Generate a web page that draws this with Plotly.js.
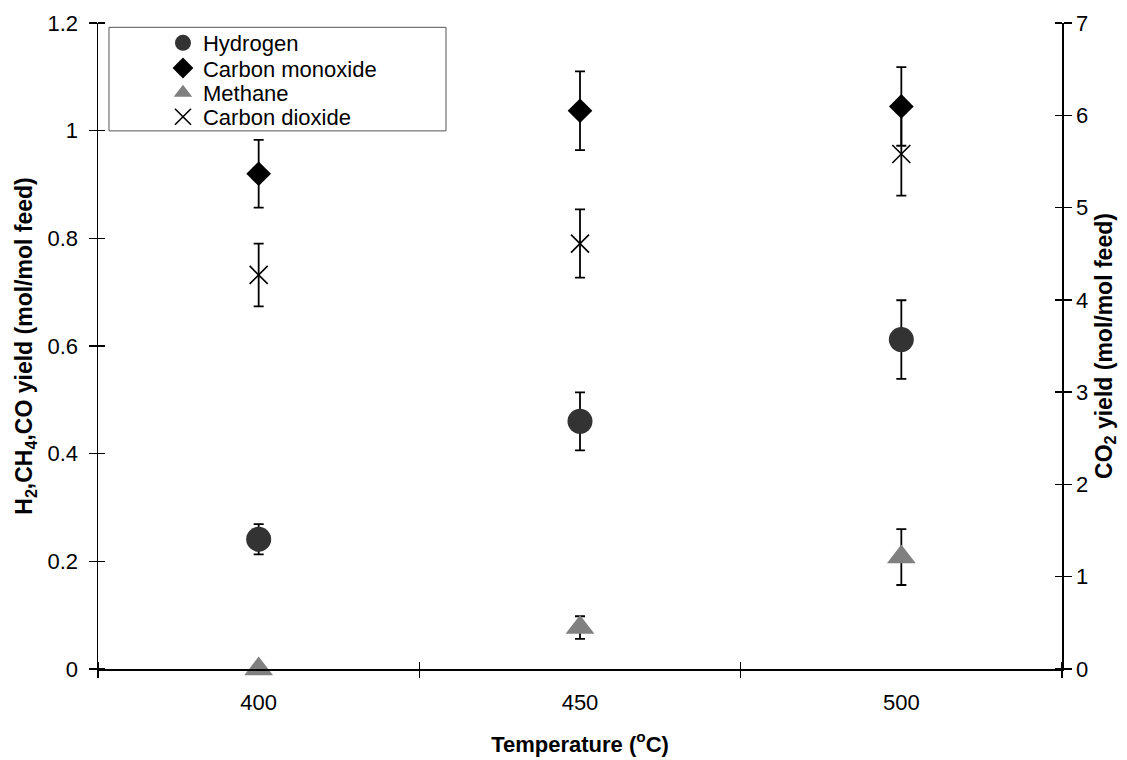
<!DOCTYPE html>
<html><head><meta charset="utf-8">
<script src="https://cdn.plot.ly/plotly-3.0.1.min.js"></script>
<style>html,body{margin:0;padding:0;background:#fff}#chart{width:1127px;height:760px}</style>
</head><body><div id="chart"></div>
<script>
const temperatures = [400, 450, 500];
const xTickLabels = ['400', '450', '500'];
const xBoundaries = [375, 425, 475, 525];
const hydrogen = [0.241, 0.460, 0.612];
const hydrogenErr = [0.028, 0.054, 0.073];
const carbonMonoxide = [0.920, 1.037, 1.045];
const carbonMonoxideErr = [0.063, 0.073, 0.073];
const methane = [0.0, 0.077, 0.208];
const methaneErr = [0.0, 0.021, 0.052];
const carbonDioxide = [4.27, 4.61, 5.58];
const carbonDioxideErr = [0.34, 0.37, 0.45];

function err(arr) {
  return {type: 'data', array: arr, visible: true, color: '#000', thickness: 1.8, width: 5};
}

const traces = [
  {name: 'Hydrogen', x: temperatures, y: hydrogen, mode: 'markers', type: 'scatter', legend: 'legend',
   marker: {symbol: 'circle', size: 25, color: '#333333', line: {width: 0}}, error_y: err(hydrogenErr)},
  {name: 'Carbon monoxide', x: temperatures, y: carbonMonoxide, mode: 'markers', type: 'scatter', legend: 'legend2',
   marker: {symbol: 'diamond', size: 19, color: '#000000', line: {width: 0}}, error_y: err(carbonMonoxideErr)},
  {name: 'Methane', x: temperatures, y: methane, mode: 'markers', type: 'scatter', legend: 'legend3',
   cliponaxis: false,
   marker: {symbol: 'triangle-up', size: 25, color: '#808080', line: {width: 0}}, error_y: err(methaneErr)},
  {name: 'Carbon dioxide', x: temperatures, y: carbonDioxide, mode: 'markers', type: 'scatter', legend: 'legend4',
   xaxis: 'x2', yaxis: 'y2',
   marker: {symbol: 'x-thin-open', size: 18, color: '#000000', line: {color: '#000000', width: 1.6}},
   error_y: err(carbonDioxideErr)}
];

const FONT = 'Liberation Sans, Arial, Helvetica, sans-serif';
function leg(yc) {
  return {x: 0.0674, y: yc, xanchor: 'left', yanchor: 'middle', bgcolor: 'rgba(0,0,0,0)',
          borderwidth: 0, font: {size: 22, family: FONT, color: '#000'}};
}
const layout = {
  width: 1127, height: 760,
  margin: {l: 98, r: 65, t: 23, b: 91},
  paper_bgcolor: '#fff', plot_bgcolor: '#fff',
  font: {family: FONT, size: 22, color: '#000'},
  showlegend: true,
  legend: leg(0.969),
  legend2: leg(0.930),
  legend3: leg(0.8916),
  legend4: leg(0.8545),
  xaxis: {range: [375, 525], tickmode: 'array', tickvals: temperatures, ticktext: xTickLabels,
          ticks: '', showline: true, linecolor: '#000', linewidth: 1.5, showgrid: false, zeroline: false,
          ticklabelstandoff: 13,
          title: {text: '<b>Temperature (<sup>o</sup>C)</b>', font: {size: 22}, standoff: 22}},
  xaxis2: {overlaying: 'x', anchor: 'y', side: 'bottom', range: [375, 525],
           tickmode: 'array', tickvals: xBoundaries, showticklabels: false,
           ticks: 'outside', ticklen: 8, tickwidth: 1.3, tickcolor: '#000',
           minor: {tickmode: 'array', tickvals: xBoundaries, ticks: 'inside', ticklen: 7, tickwidth: 1.3, tickcolor: '#000'},
           showline: false, showgrid: false, zeroline: false},
  yaxis: {range: [0, 1.2], tickmode: 'linear', tick0: 0, dtick: 0.2,
          ticks: 'outside', ticklen: 8, tickwidth: 1.3, tickcolor: '#000', ticklabelstandoff: 6,
          minor: {tickmode: 'linear', tick0: 0, dtick: 0.2, ticks: 'inside', ticklen: 7, tickwidth: 1.3, tickcolor: '#000'},
          showline: true, linecolor: '#000', linewidth: 1.5, showgrid: false, zeroline: false,
          title: {text: '<b>H<sub>2</sub>,CH<sub>4</sub>,CO yield (mol/mol feed)</b>', font: {size: 23}, standoff: 8}},
  yaxis2: {overlaying: 'y', side: 'right', anchor: 'x2', range: [0, 7], tickmode: 'linear', tick0: 0, dtick: 1,
           ticks: 'outside', ticklen: 8, tickwidth: 1.3, tickcolor: '#000',
           minor: {tickmode: 'linear', tick0: 0, dtick: 1, ticks: 'inside', ticklen: 7, tickwidth: 1.3, tickcolor: '#000'},
           showline: true, linecolor: '#000', linewidth: 1.5, showgrid: false, zeroline: false,
           title: {text: '<b>CO<sub>2</sub> yield (mol/mol feed)</b>', font: {size: 23}, standoff: 8}},
  shapes: [
    {type: 'rect', xref: 'paper', yref: 'paper', x0: 0.0114, x1: 0.361, y0: 0.833, y1: 0.9933,
     line: {color: '#555', width: 1}, fillcolor: '#fff', layer: 'below'}
  ]
};

Plotly.newPlot('chart', traces, layout, {displayModeBar: false, staticPlot: true});
</script>
</body></html>
